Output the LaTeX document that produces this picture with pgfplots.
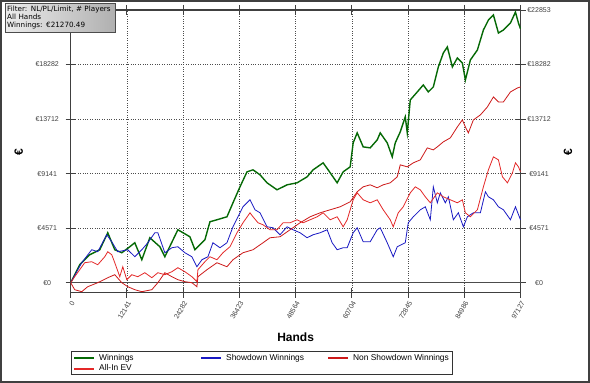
\documentclass[border=0pt]{standalone}
\usepackage{fontspec}
\setmainfont{Liberation Sans}
\newfontfamily\boxfont{DejaVu Sans}
\usepackage{pgfplots}
\pgfplotsset{compat=1.18}
\definecolor{wgreen}{RGB}{5,105,5}
\definecolor{sdblue}{RGB}{25,25,195}
\definecolor{nsdred}{RGB}{205,25,25}
\definecolor{evred}{RGB}{228,40,40}
\begin{document}
\begin{tikzpicture}
\useasboundingbox (0,0) rectangle (590pt,383pt);
\fill[white] (0,0) rectangle (590pt,383pt);
\begin{axis}[
  at={(70.7pt,90.3pt)}, anchor=south west,
  scale only axis, width=449.8pt, height=282.7pt,
  xmin=0, xmax=97127, ymin=-838, ymax=22853,
  scaled x ticks=false, scaled y ticks=false,
  xtick={0,12141,24282,36423,48564,60704,72845,84986,97127},
  xticklabels={0,12141,24282,36423,48564,60704,72845,84986,97127},
  ytick={0,4571,9141,13712,18282,22853},
  yticklabels={€0,€4571,€9141,€13712,€18282,},
  minor x tick num=4, minor y tick num=4,
  tick align=center,
  major tick length=10pt, minor tick length=7pt,
  axis line style={black!75, line width=1.2pt},
  every tick/.style={black!75, line width=0.9pt},
  grid=major,
  major grid style={dotted, black!70, line width=0.6pt},
  ticklabel style={font=\fontsize{7}{8}\selectfont, text=black!75},
  yticklabel style={anchor=center, xshift=-18.5pt},
  xticklabel style={xshift=3pt, yshift=-3pt, rotate=60, anchor=east, inner sep=1pt},
  xlabel={\bfseries Hands},
  xlabel style={font=\fontsize{12}{14}\selectfont, at={(axis description cs:0.5,-0.1577)}, anchor=center},
  ylabel={\bfseries €},
  ylabel style={font=\fontsize{12}{14}\selectfont, at={(axis description cs:-0.1155,0.4975)}, anchor=center},
  extra y ticks={0}, extra y tick labels={},
  extra y tick style={grid=major, major grid style={solid, black!70, line width=1.3pt}, tick style={draw=none}},
  legend columns=3,
  legend cell align=left,
  legend image code/.code={\draw[#1, line width=2pt] (0pt,0pt) -- (20pt,0pt);},
  legend style={at={(axis description cs:0,-0.2080)}, anchor=north west,
    draw=black!80, line width=0.9pt, inner xsep=2pt, inner ysep=1pt,
    font=\fontsize{8.4}{9}\selectfont,
    nodes={inner xsep=2pt, inner ysep=1.2pt, text height=6.2pt, text depth=1.8pt},
    row sep=0.2pt,
    /tikz/every odd column/.append style={column sep=2pt},
    /tikz/every even column/.append style={column sep=4pt}},
]
\addplot[wgreen, line width=1.4pt] coordinates {
(0,0) (1947,1507) (4110,2344) (6273,2762) (8003,4185) (9517,2762) (11031,2511)
(12762,3013) (13843,3348) (15357,1925) (17088,3767) (19251,3013) (20332,2176)
(23144,4436) (25740,3850) (26821,2762) (28984,3599) (30066,5106) (31580,5273)
(33743,5524) (35041,6696) (36555,8035) (38069,9291) (39367,9458) (40881,9040)
(42395,8370) (44558,7784) (46721,8203) (48884,8370) (51047,8872) (52345,9458)
(54508,10044) (55589,9458) (57536,8370) (58834,9291) (60349,9709) (60997,11718)
(61862,12555) (63160,11383) (64674,11300) (66188,11969) (66837,12555) (68351,11718)
(69432,10546) (70081,11718) (71163,12639) (72244,13894) (72677,12555) (73326,15317)
(74840,15987) (76138,16573) (77219,15987) (78301,16405) (79382,18079) (80464,19251)
(81329,19753) (82410,18079) (83492,18833) (84573,18414) (85222,16991) (86304,18665)
(87818,19502) (89116,21176) (90197,22013) (91279,22432) (92360,20925) (93442,21176)
(94956,21762) (96037,22683) (96686,21762) (97127,21270)
};
\addlegendentry{\makebox[95pt][l]{Winnings}}
\addplot[sdblue, line width=0.8pt] coordinates {
(0,0) (2379,1674) (4542,2762) (5840,2595) (7787,4018) (8868,3432) (10166,2595)
(12329,2762) (13843,2176) (15357,2762) (16655,3348) (18169,4185) (18818,4185)
(20332,2511) (21846,2930) (23144,3013) (24658,2511) (26172,2176) (27254,1339)
(28335,1925) (29633,2176) (30715,3348) (32229,2930) (33743,3348) (35041,4687)
(36122,5524) (37204,6361) (38718,6947) (39799,6110) (40881,5859) (42395,4687)
(43693,4604) (45207,4018) (46721,4687) (48019,4436) (49533,4185) (51047,3767)
(52345,4018) (53859,4185) (55373,4436) (56455,3348) (57536,2762) (58834,2930)
(59700,2930) (60997,4185) (61862,4604) (63160,3432) (64674,3432) (66188,4436)
(66837,4604) (68351,3348) (69649,2176) (70514,3013) (72244,3348) (72893,5022)
(73975,5524) (75489,6110) (76570,6361) (77652,5273) (78301,8035) (79166,6696)
(79815,7533) (80896,6696) (81545,7198) (82627,5273) (83708,5859) (84790,4687)
(85655,5524) (86953,5859) (88467,5859) (89548,7617) (90197,7198) (91279,6947)
(92360,6361) (93442,6110) (94956,5273) (96037,6361) (97127,5273)
};
\addlegendentry{\makebox[95pt][l]{Showdown Winnings}}
\addplot[nsdred, line width=0.8pt] coordinates {
(0,0) (865,-586) (2379,-753) (3677,-335) (5840,0) (8003,419) (9517,670)
(11031,0) (12329,-335) (13843,-586) (15357,-753) (17520,-586) (18818,0)
(20332,837) (21846,502) (23144,251) (24658,84) (26172,0) (27254,-335)
(27470,502) (29417,1088) (31580,1674) (33743,1339) (35041,1925) (37204,2511)
(39367,2762) (41530,3348) (43044,3767) (45207,3850) (47370,4436) (49533,5022)
(51696,5524) (53859,5859) (56022,6110) (58185,6361) (60349,6780) (61862,7617)
(63160,8035) (64674,8203) (66188,7952) (67486,8203) (69000,8370) (70514,8872)
(71163,9877) (72677,9709) (73975,10044) (75489,10295) (77003,11300) (78301,11132)
(79166,11383) (80464,11802) (81978,12137) (83492,13057) (84573,13643) (85222,13057)
(85871,12555) (86953,13643) (88467,14062) (89981,14731) (91279,15568) (92360,15150)
(93442,15150) (94956,15987) (96470,16322) (97127,16405)
};
\addlegendentry{\makebox[95pt][l]{Non Showdown Winnings}}
\addplot[evred, line width=0.8pt] coordinates {
(0,0) (865,502) (3028,1674) (4542,1758) (5840,1507) (7354,2176) (8003,2595)
(8868,2344) (9517,1674) (10599,502) (11248,1339) (12113,251) (13194,670)
(14492,502) (16006,837) (17520,419) (18818,837) (20332,670) (21846,921)
(23144,1256) (24658,921) (26172,502) (27254,84) (27470,1088) (28984,1758)
(30066,2176) (31580,1925) (32878,2511) (34392,3013) (35906,4185) (37204,5022)
(38718,5859) (39367,5524) (40448,5022) (41530,4855) (43044,4436) (44558,4436)
(45856,5022) (47370,5022) (48884,5273) (50182,5022) (51696,5273) (53210,5524)
(54508,5859) (56022,5273) (57536,5524) (58834,4687) (59700,5273) (60997,6947)
(61862,7533) (63160,6947) (64674,6696) (66188,6947) (67486,6110) (69000,5273)
(69649,4687) (70730,5859) (71812,6361) (73326,7533) (74407,8035) (75489,7784)
(76570,7198) (77652,6696) (79166,7533) (80464,7198) (81978,6947) (83492,6696)
(84573,6947) (85222,5859) (86304,5524) (87818,6110) (89116,8035) (90197,9458)
(91279,10546) (92360,10295) (93225,8872) (94307,8370) (95389,9207) (96037,10044)
(96686,9709) (97127,9291)
};
\addlegendentry{\makebox[95pt][l]{All-In EV}}
\end{axis}
\begin{axis}[
  at={(70.7pt,90.3pt)}, anchor=south west,
  scale only axis, width=449.8pt, height=282.7pt,
  xmin=0, xmax=97127, ymin=-838, ymax=22853,
  scaled y ticks=false,
  hide x axis, xtick=\empty,
  axis y line*=right,
  y axis line style={draw=none},
  ytick={0,4571,9141,13712,18282,22853},
  yticklabels={€0,€4571,€9141,€13712,€18282,€22853},
  ytick style={draw=none},
  yticklabel style={font=\fontsize{7}{8}\selectfont, text=black!75, anchor=center, xshift=18.5pt},
  ylabel={\bfseries €},
  ylabel style={font=\fontsize{12}{14}\selectfont, at={(axis description cs:1.1055,0.4975)}, anchor=center},
]
\end{axis}
\node[anchor=north west, draw=black!70, line width=0.8pt, left color=gray!15, right color=gray!62,
  text width=106pt, minimum height=29pt, inner xsep=1.8pt, inner ysep=1.2pt,
  align=left, font=\boxfont\fontsize{7.2}{8}\selectfont]
  at (5pt,380pt) {\mbox{Filter: NL/PL/Limit, \# Players}\\\mbox{All Hands}\\\mbox{Winnings: €21270.49}};
\draw[black!75, line width=2pt] (1pt,1pt) rectangle (589pt,382pt);
\end{tikzpicture}
\end{document}
